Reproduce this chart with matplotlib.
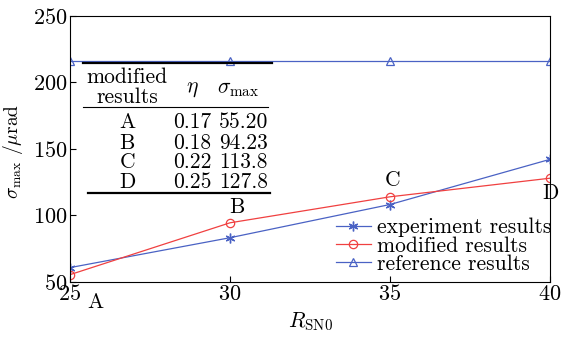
import numpy as np
import matplotlib.pyplot as plt

# data
r_sn0 = [25, 30, 35, 40]
experiment = [60.5, 83.0, 108.0, 142.0]
modified = [55.20, 94.23, 113.8, 127.8]
reference = [216, 216, 216, 216]
point_names = ['A', 'B', 'C', 'D']
eta_vals = ['0.17', '0.18', '0.22', '0.25']
sigma_vals = ['55.20', '94.23', '113.8', '127.8']

plt.rcParams['font.family'] = ['cmr10', 'DejaVu Serif']
plt.rcParams['mathtext.fontset'] = 'cm'
plt.rcParams['axes.formatter.use_mathtext'] = True
plt.rcParams['font.size'] = 15.5

blue = '#4a62c4'
red = '#f04040'

fig = plt.figure(figsize=(5.62, 3.38), dpi=100)
ax = fig.add_axes([0.1246, 0.167, 0.854, 0.786])

ax.plot(r_sn0, experiment, '-', color=blue, marker=(6, 2, 0), ms=7, mew=1.0,
        lw=0.9, label='experiment results')
ax.plot(r_sn0, modified, '-o', color=red, mfc='none', ms=6, mew=0.9,
        lw=0.9, label='modified results')
ax.plot(r_sn0, reference, '-^', color=blue, mfc='none', ms=6, mew=0.9,
        lw=0.9, label='reference results')

ax.set_xlim(25, 40)
ax.set_ylim(50, 250)
ax.set_xticks([25, 30, 35, 40])
ax.set_yticks([50, 100, 150, 200, 250])
ax.tick_params(direction='in', length=4, width=0.8, labelsize=16)
ax.tick_params(axis='x', pad=2)
ax.tick_params(axis='y', pad=2)
for s in ax.spines.values():
    s.set_linewidth(0.8)

ax.set_xlabel(r'$R_{\rm SN0}$', fontsize=15.5, labelpad=4)
ax.set_ylabel(r'$\sigma_{\rm max}$ /$\mu$rad', fontsize=14)
ax.yaxis.set_label_coords(-0.094, 0.488)

# point labels
offsets = [(18, -20), (5, 11.5), (1.5, 12), (0.5, -10.5)]
for name, x, y, off in zip(point_names, r_sn0, modified, offsets):
    ax.annotate(name, xy=(x, y), xytext=off, textcoords='offset points',
                ha='center', va='center', fontsize=15.5)

leg = ax.legend(loc='lower right', bbox_to_anchor=(1.03, -0.02), frameon=False,
                fontsize=15.5, handlelength=1.6, handletextpad=0.3,
                labelspacing=-0.05, borderaxespad=0.2)

# table
tr = ax.transAxes
ax.plot([0.027, 0.421], [0.823, 0.823], color='black', lw=1.6, transform=tr, clip_on=False)
ax.plot([0.027, 0.4125], [0.657, 0.657], color='black', lw=0.8, transform=tr, clip_on=False)
ax.plot([0.0375, 0.417], [0.333, 0.333], color='black', lw=1.6, transform=tr, clip_on=False)
ax.text(0.119, 0.770, 'modified', ha='center', va='center', transform=tr, fontsize=15.5)
ax.text(0.119, 0.692, 'results', ha='center', va='center', transform=tr, fontsize=15.5)
ax.text(0.254, 0.725, r'$\eta$', ha='center', va='center', transform=tr, fontsize=15.5)
ax.text(0.350, 0.725, r'$\sigma_{\rm max}$', ha='center', va='center', transform=tr, fontsize=15.5)
row_y = [0.598, 0.522, 0.450, 0.375]
for name, e, s, y in zip(point_names, eta_vals, sigma_vals, row_y):
    ax.text(0.119, y, name, ha='center', va='center', transform=tr, fontsize=15.5)
    ax.text(0.254, y, e, ha='center', va='center', transform=tr, fontsize=15.5)
    ax.text(0.362, y, s, ha='center', va='center', transform=tr, fontsize=15.5)

fig.savefig('out.png', dpi=100)
